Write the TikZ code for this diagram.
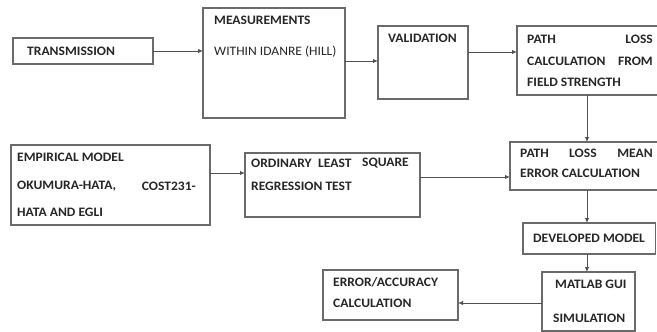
\documentclass[tikz,border=0pt]{standalone}
\usepackage{fontspec}
\setmainfont{Carlito}[FakeStretch=1.05]
\usetikzlibrary{arrows.meta}
\definecolor{boxline}{HTML}{6A6A6A}
\definecolor{arrline}{HTML}{505050}
\definecolor{txt}{HTML}{262626}
\begin{document}
\begin{tikzpicture}[x=1pt,y=-1pt,
  box/.style={draw=boxline,line width=1.1pt},
  lbl/.style={anchor=west,inner sep=0pt,text=txt,font=\fontsize{12.9}{14}\selectfont\bfseries},
  lble/.style={lbl,anchor=east},
  lblr/.style={anchor=west,inner sep=0pt,text=txt,font=\fontsize{12.9}{14}\selectfont},
  arr/.style={draw=arrline,line width=0.9pt,-{Latex[length=5pt,width=4.5pt]}}]
\useasboundingbox (0,0) rectangle (657,332);
\clip (0,0) rectangle (657,332);
% boxes
\path[box] (13,38) rectangle (153,64);
\coordinate (transE) at (153,51);
\path[box] (203,8) rectangle (345,118);
\coordinate (measW) at (203,51);
\coordinate (measE) at (345,61);
\path[box] (378,26) rectangle (468,99);
\coordinate (valW) at (378,61);
\coordinate (valE) at (468,52);
\path[box] (517,26) rectangle (690,95);
\coordinate (plcW) at (517,52);
\coordinate (plcS) at (587,95);
\path[box] (11,145) rectangle (210,225);
\coordinate (empE) at (210,173);
\path[box] (245,153) rectangle (420,217);
\coordinate (olsW) at (245,173);
\coordinate (olsE) at (420,177);
\path[box] (510,142) rectangle (690,190);
\coordinate (pmN) at (587,142);
\coordinate (pmW) at (510,177);
\coordinate (pmS) at (587,190);
\path[box] (523,223) rectangle (655.5,254);
\coordinate (devN) at (587,223);
\coordinate (devS) at (587,254);
\path[box] (542,272) rectangle (635,331);
\coordinate (matN) at (587,272);
\coordinate (matW) at (542,303);
\path[box] (323,270) rectangle (458,320);
\coordinate (errE) at (458,303);
% texts
\node[lbl] (t1) at (27,51) {TRANSMISSION};
\node[lbl] (t2) at (214,20) {MEASUREMENTS};
\node[lblr] (t3) at (214,52) {WITHIN IDANRE (HILL)};
\node[lbl] (t4) at (388,38) {VALIDATION};
\node[lbl] (t5a) at (527,39) {PATH};
\node[lble] (t5b) at (653,39) {LOSS};
\node[lbl] (t5c) at (527,61) {CALCULATION};
\node[lble] (t5d) at (653,61) {FROM};
\node[lbl] (t5e) at (527,82) {FIELD STRENGTH};
\node[lbl] (t6a) at (17,157) {EMPIRICAL MODEL};
\node[lbl] (t6b) at (17,186) {OKUMURA-HATA,};
\node[lble] (t6c) at (196,186) {COST231-};
\node[lbl] (t6d) at (17,212) {HATA AND EGLI};
\node[lbl] (t7a) at (251,163) {ORDINARY};
\node[lbl] (t7b) at (318,163) {LEAST};
\node[lble] (t7c) at (409,163) {SQUARE};
\node[lbl] (t7d) at (251,186) {REGRESSION TEST};
\node[lbl] (t8a) at (520,153) {PATH};
\node[lbl] (t8b) at (569,153) {LOSS};
\node[lble] (t8c) at (653,153) {MEAN};
\node[lbl] (t8d) at (520,173) {ERROR CALCULATION};
\node[lbl] (t9) at (533,238) {DEVELOPED MODEL};
\node[lbl] (t10a) at (555,284) {MATLAB GUI};
\node[lbl] (t10b) at (553,318) {SIMULATION};
\node[lbl] (t11a) at (333,282) {ERROR/ACCURACY};
\node[lbl] (t11b) at (333,303) {CALCULATION};
% arrows
\draw[arr] (transE) -- (measW);
\draw[arr] (measE) -- (valW);
\draw[arr] (valE) -- (plcW);
\draw[arr] (plcS) -- (pmN);
\draw[arr] (empE) -- (olsW);
\draw[arr] (olsE) -- (pmW);
\draw[arr] (pmS) -- (devN);
\draw[arr] (devS) -- (matN);
\draw[arr] (matW) -- (errE);
\end{tikzpicture}
\end{document}
